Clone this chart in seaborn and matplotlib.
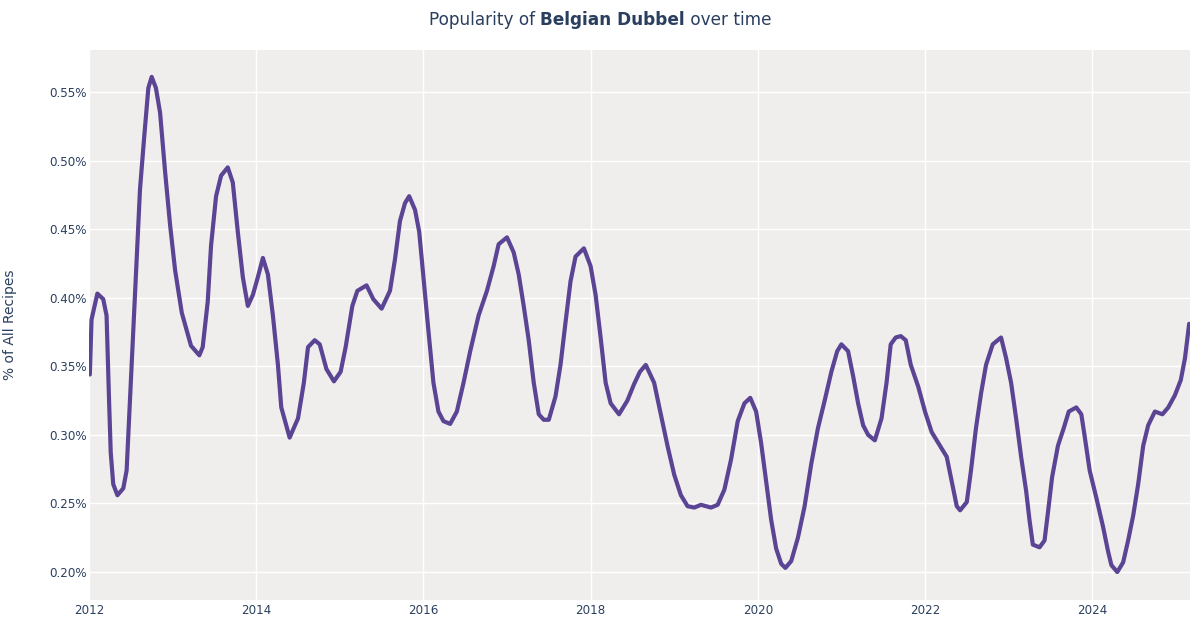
"""Popularity of Belgian Dubbel over time (share of all recipes)."""
import matplotlib
matplotlib.use("Agg")
import matplotlib.pyplot as plt
import pandas as pd
import seaborn as sns
from matplotlib.ticker import FuncFormatter

# ── Data ─────────────────────────────────────────────────────────────────────

YEARS = [
    2012.01, 2012.03, 2012.10, 2012.17, 2012.21, 2012.24, 2012.26, 2012.29,
    2012.34, 2012.41, 2012.45, 2012.49, 2012.55, 2012.61, 2012.66, 2012.71,
    2012.75, 2012.80, 2012.85, 2012.91, 2012.97, 2013.03, 2013.11, 2013.17,
    2013.22, 2013.32, 2013.36, 2013.42, 2013.46, 2013.52, 2013.58, 2013.66,
    2013.72, 2013.78, 2013.84, 2013.90, 2013.96, 2014.02, 2014.08, 2014.14,
    2014.20, 2014.26, 2014.30, 2014.40, 2014.50, 2014.57, 2014.62, 2014.70,
    2014.76, 2014.84, 2014.93, 2015.01, 2015.07, 2015.15, 2015.21, 2015.32,
    2015.40, 2015.50, 2015.60, 2015.66, 2015.72, 2015.78, 2015.83, 2015.90,
    2015.95, 2016.00, 2016.06, 2016.12, 2016.18, 2016.24, 2016.32, 2016.40,
    2016.48, 2016.56, 2016.66, 2016.76, 2016.84, 2016.90, 2017.00, 2017.08,
    2017.14, 2017.20, 2017.26, 2017.32, 2017.38, 2017.44, 2017.50, 2017.58,
    2017.64, 2017.70, 2017.76, 2017.82, 2017.92, 2018.00, 2018.06, 2018.12,
    2018.18, 2018.24, 2018.34, 2018.44, 2018.52, 2018.59, 2018.66, 2018.76,
    2018.84, 2018.92, 2019.00, 2019.08, 2019.16, 2019.24, 2019.32, 2019.44,
    2019.52, 2019.60, 2019.68, 2019.76, 2019.84, 2019.91, 2019.98, 2020.04,
    2020.10, 2020.16, 2020.22, 2020.28, 2020.33, 2020.40, 2020.48, 2020.56,
    2020.64, 2020.72, 2020.80, 2020.88, 2020.95, 2021.00, 2021.08, 2021.14,
    2021.20, 2021.26, 2021.32, 2021.40, 2021.48, 2021.54, 2021.59, 2021.65,
    2021.71, 2021.77, 2021.83, 2021.92, 2022.00, 2022.08, 2022.16, 2022.26,
    2022.32, 2022.38, 2022.42, 2022.50, 2022.55, 2022.61, 2022.67, 2022.73,
    2022.81, 2022.91, 2022.97, 2023.03, 2023.09, 2023.15, 2023.21, 2023.25,
    2023.29, 2023.37, 2023.43, 2023.47, 2023.52, 2023.59, 2023.66, 2023.72,
    2023.81, 2023.87, 2023.91, 2023.97, 2024.05, 2024.13, 2024.19, 2024.23,
    2024.30, 2024.37, 2024.43, 2024.49, 2024.55, 2024.61, 2024.67, 2024.75,
    2024.84, 2024.91, 2024.99, 2025.06, 2025.11, 2025.16,
]

SHARE_PCT = [
    0.344, 0.384, 0.403, 0.399, 0.387, 0.325, 0.287, 0.264,
    0.256, 0.261, 0.274, 0.325, 0.402, 0.479, 0.517, 0.553,
    0.561, 0.553, 0.535, 0.492, 0.453, 0.420, 0.389, 0.376,
    0.365, 0.358, 0.364, 0.397, 0.438, 0.474, 0.489, 0.495,
    0.484, 0.448, 0.415, 0.394, 0.402, 0.415, 0.429, 0.417,
    0.387, 0.351, 0.320, 0.298, 0.312, 0.338, 0.364, 0.369,
    0.366, 0.348, 0.339, 0.346, 0.364, 0.394, 0.405, 0.409,
    0.399, 0.392, 0.405, 0.428, 0.456, 0.469, 0.474, 0.464,
    0.448, 0.415, 0.376, 0.338, 0.317, 0.310, 0.308, 0.317,
    0.338, 0.361, 0.387, 0.405, 0.423, 0.439, 0.444, 0.433,
    0.417, 0.394, 0.369, 0.338, 0.315, 0.311, 0.311, 0.328,
    0.351, 0.382, 0.412, 0.430, 0.436, 0.423, 0.402, 0.371,
    0.338, 0.323, 0.315, 0.325, 0.337, 0.346, 0.351, 0.338,
    0.315, 0.292, 0.271, 0.256, 0.248, 0.247, 0.249, 0.247,
    0.249, 0.260, 0.282, 0.310, 0.323, 0.327, 0.317, 0.294,
    0.266, 0.238, 0.217, 0.206, 0.203, 0.208, 0.225, 0.248,
    0.279, 0.305, 0.325, 0.346, 0.361, 0.366, 0.361, 0.343,
    0.323, 0.307, 0.300, 0.296, 0.312, 0.338, 0.366, 0.371,
    0.372, 0.369, 0.351, 0.335, 0.317, 0.302, 0.294, 0.284,
    0.266, 0.248, 0.245, 0.251, 0.274, 0.305, 0.330, 0.351,
    0.366, 0.371, 0.356, 0.338, 0.312, 0.284, 0.259, 0.238,
    0.220, 0.218, 0.223, 0.243, 0.269, 0.292, 0.305, 0.317,
    0.320, 0.315, 0.299, 0.274, 0.254, 0.233, 0.215, 0.205,
    0.200, 0.207, 0.223, 0.241, 0.264, 0.292, 0.307, 0.317,
    0.315, 0.320, 0.329, 0.340, 0.356, 0.381,
]

X_TICKS = [2012, 2014, 2016, 2018, 2020, 2022, 2024]
Y_TICKS = [0.20, 0.25, 0.30, 0.35, 0.40, 0.45, 0.50, 0.55]

STYLE_NAME = "Belgian Dubbel"

# ── Styling ──────────────────────────────────────────────────────────────────

LINE_COLOR = "#5b4494"
PANEL_BG = "#efeeed"
TEXT_COLOR = "#2a3f5f"

sns.set_theme(style="darkgrid", rc={
    "axes.facecolor": PANEL_BG,
    "grid.color": "white",
    "grid.linewidth": 1.0,
})
plt.rcParams["font.family"] = ["DejaVu Sans"]

df = pd.DataFrame({"year": YEARS, "share": SHARE_PCT})

fig = plt.figure(figsize=(12, 6.3), dpi=100)
ax = fig.add_axes([89 / 1200, 30 / 630, 1101 / 1200, 550 / 630])

sns.lineplot(data=df, x="year", y="share", color=LINE_COLOR,
             linewidth=3.0, ax=ax, solid_capstyle="round",
             solid_joinstyle="round")

ax.set_xlim(2012, 2025.17)
ax.set_ylim(0.1796, 0.5806)
ax.set_xticks(X_TICKS)
ax.set_yticks(Y_TICKS)
ax.xaxis.set_major_formatter(FuncFormatter(lambda v, _: f"{int(round(v))}"))
ax.yaxis.set_major_formatter(FuncFormatter(lambda v, _: f"{v:.2f}%"))
ax.tick_params(axis="both", length=0, labelsize=8.6, labelcolor=TEXT_COLOR)
ax.tick_params(axis="x", pad=3)
ax.tick_params(axis="y", pad=1.5)
ax.set_xlabel("")
ax.set_ylabel("% of All Recipes", fontsize=10, color=TEXT_COLOR, labelpad=23)
for spine in ax.spines.values():
    spine.set_visible(False)

# Title with a bold style name in the middle
parts = [("Popularity of ", "normal"), (STYLE_NAME, "bold"), (" over time", "normal")]
texts = [fig.text(0, 0.968, s, fontsize=12.2, fontweight=w, color=TEXT_COLOR,
                  va="center", ha="left") for s, w in parts]
fig.canvas.draw()
renderer = fig.canvas.get_renderer()
widths = [t.get_window_extent(renderer).width for t in texts]
x0 = 600 - sum(widths) / 2
for t, w in zip(texts, widths):
    t.set_x(x0 / 1200)
    x0 += w

fig.savefig("out.png", dpi=100)
